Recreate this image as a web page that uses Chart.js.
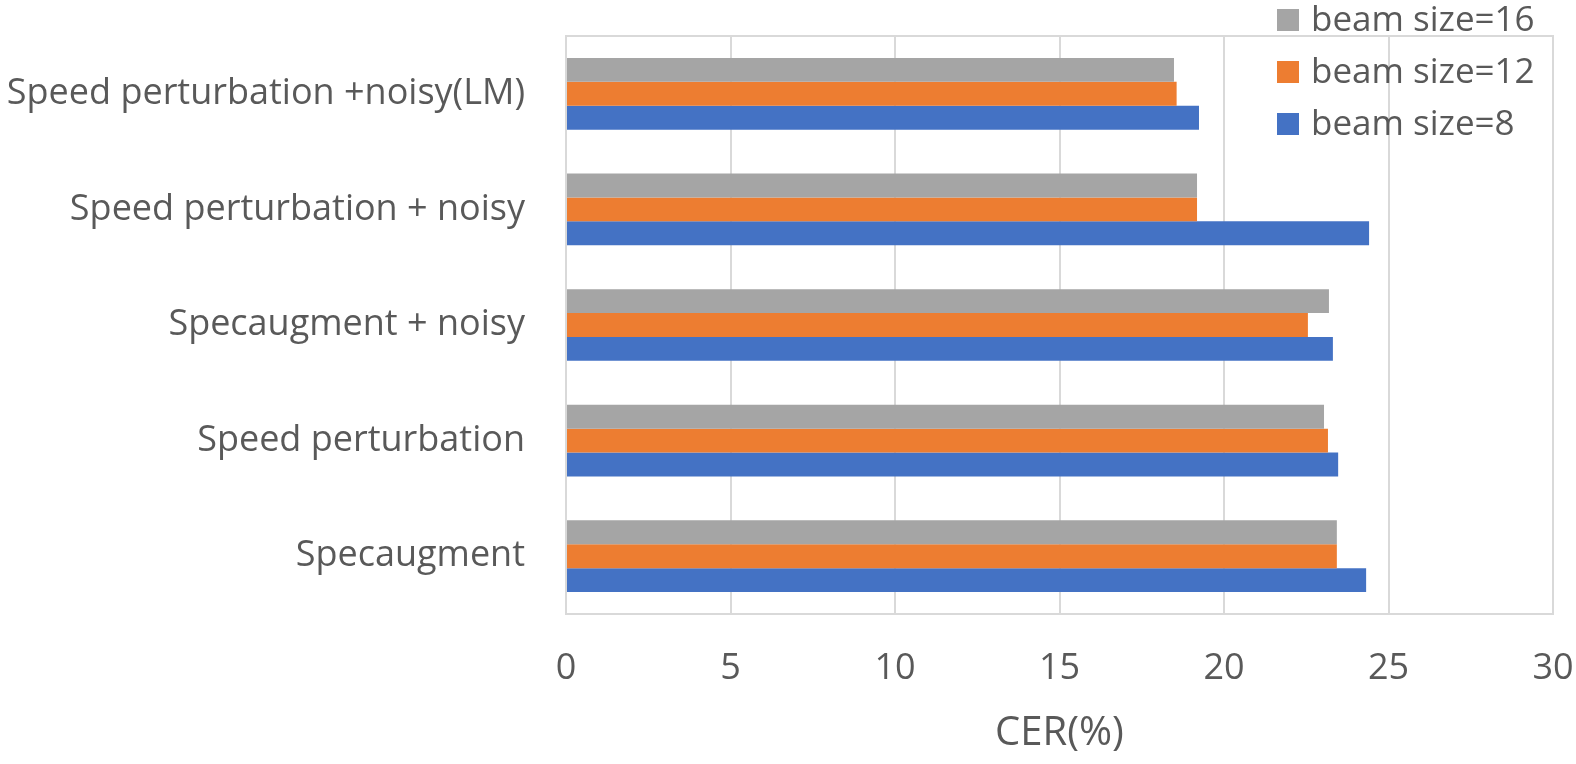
<!DOCTYPE html>
<html>
<head>
<meta charset="utf-8">
<script src="https://cdn.jsdelivr.net/npm/chart.js@4"></script>
<style>
  html, body { margin: 0; padding: 0; background: #fff; }
  #wrap { width: 1576px; height: 764px; }
</style>
</head>
<body>
<div id="wrap"><canvas id="cerChart" width="1576" height="764"></canvas></div>
<script>
const categories = [
  "Speed perturbation +noisy(LM)",
  "Speed perturbation + noisy",
  "Specaugment + noisy",
  "Speed perturbation",
  "Specaugment"
];
const beam16 = [18.48, 19.18, 23.19, 23.04, 23.43];
const beam12 = [18.56, 19.18, 22.55, 23.16, 23.43];
const beam8 = [19.24, 24.41, 23.31, 23.47, 24.32];
const xTicks = [0, 5, 10, 15, 20, 25, 30];

const textColor = "#595959";
const gridColor = "#d9d9d9";

// Excel-style box round the plot area
const plotBorder = {
  id: "plotBorder",
  beforeDatasetsDraw(chart) {
    const { ctx, chartArea: a } = chart;
    ctx.save();
    ctx.strokeStyle = gridColor;
    ctx.lineWidth = 2;
    ctx.strokeRect(a.left, a.top, a.right - a.left, a.bottom - a.top);
    ctx.restore();
  }
};

// legend drawn over the plot, top right
const overlayLegend = {
  id: "overlayLegend",
  afterDraw(chart) {
    const ctx = chart.ctx;
    ctx.save();
    ctx.font = "35px 'Open Sans'";
    ctx.textBaseline = "middle";
    chart.data.datasets.forEach((ds, i) => {
      const y = 20 + i * 52;
      ctx.fillStyle = ds.backgroundColor;
      ctx.fillRect(1277, y - 11, 22, 22);
      ctx.fillStyle = textColor;
      ctx.fillText(ds.label, 1311, y + 1);
    });
    ctx.restore();
  }
};

new Chart(document.getElementById("cerChart"), {
  type: "bar",
  data: {
    labels: categories,
    datasets: [
      { label: "beam size=16", data: beam16, backgroundColor: "#A5A5A5" },
      { label: "beam size=12", data: beam12, backgroundColor: "#ED7D31" },
      { label: "beam size=8", data: beam8, backgroundColor: "#4472C4" }
    ]
  },
  options: {
    indexAxis: "y",
    responsive: false,
    animation: false,
    categoryPercentage: 0.62,
    barPercentage: 1,
    layout: { padding: { top: 36, right: 23, left: 0, bottom: 0 } },
    plugins: {
      legend: { display: false },
      tooltip: { enabled: false }
    },
    scales: {
      x: {
        min: 0,
        max: 30,
        afterBuildTicks(scale) {
          scale.ticks = xTicks.map((v) => ({ value: v }));
        },
        afterFit(scale) {
          scale.height = 150;
          scale.paddingLeft = 0;
          scale.paddingRight = 0;
        },
        grid: { color: gridColor, lineWidth: 2, drawTicks: false },
        border: { display: false },
        ticks: {
          color: textColor,
          font: { family: "'Open Sans'", size: 36 },
          padding: 33
        },
        title: {
          display: true,
          text: "CER(%)",
          color: textColor,
          font: { family: "'Open Sans'", size: 40 },
          padding: { top: 0, bottom: 6 }
        }
      },
      y: {
        afterFit(scale) {
          scale.width = 566;
          scale.paddingTop = 0;
          scale.paddingBottom = 0;
        },
        grid: { display: false, drawTicks: false },
        border: { display: false },
        ticks: {
          color: textColor,
          font: { family: "'Open Sans'", size: 36 },
          padding: 41
        }
      }
    }
  },
  plugins: [plotBorder, overlayLegend]
});
</script>
</body>
</html>
